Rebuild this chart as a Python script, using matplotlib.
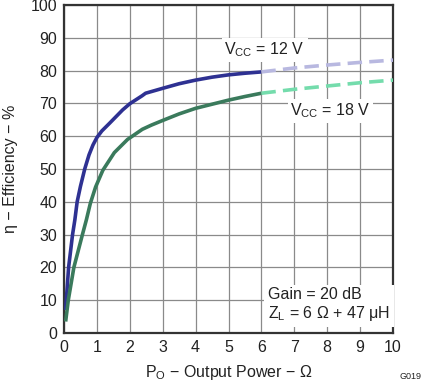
import matplotlib
matplotlib.use("Agg")
import matplotlib.pyplot as plt

plt.rcParams['font.family'] = ['Liberation Sans', 'DejaVu Sans']

# Vcc = 12 V measured (solid) and extrapolated (dashed)
p12 = [0.05, 0.07, 0.14, 0.26, 0.33, 0.40, 0.50, 0.63, 0.76, 0.88, 1.0, 1.15, 1.38, 1.78, 2.0, 2.37, 2.48, 3.0, 3.5, 4.0, 4.5, 5.0, 5.5, 6.0]
e12 = [7.0, 10, 20, 30, 34.5, 40, 44.7, 50, 54.3, 57.3, 59.6, 61.6, 63.9, 68.0, 69.9, 72.3, 73.1, 74.6, 76.0, 77.1, 78.0, 78.7, 79.2, 79.6]
p12d = [6.0, 7.0, 8.0, 9.0, 10.0]
e12d = [79.6, 80.8, 81.7, 82.5, 83.2]

# Vcc = 18 V
p18 = [0.05, 0.13, 0.30, 0.56, 0.68, 0.80, 0.96, 1.18, 1.53, 1.93, 2.38, 2.66, 3.0, 3.5, 4.0, 4.6, 5.0, 5.5, 6.0]
e18 = [3.5, 10, 20, 30, 34.5, 39.5, 44.5, 49.6, 55, 59, 62.1, 63.4, 64.8, 66.8, 68.5, 70.0, 71.0, 72.1, 73.1]
p18d = [6.0, 7.0, 8.0, 9.0, 10.0]
e18d = [73.1, 74.3, 75.3, 76.3, 77.1]

xticks = list(range(0, 11))
yticks = list(range(0, 101, 10))

fig = plt.figure(figsize=(4.21, 3.83), dpi=100)
ax = fig.add_axes([64/421, 1-333/383, (393-64)/421, (333-5)/383])

ax.plot(p12, e12, color='#2e3192', lw=2.6, solid_capstyle='butt', solid_joinstyle='round', zorder=3)
ax.plot(p12d, e12d, color='#b8b8e0', lw=2.6, ls=(0, (4, 2)), zorder=3)
ax.plot(p18, e18, color='#3a7a5c', lw=2.6, solid_capstyle='butt', solid_joinstyle='round', zorder=3)
ax.plot(p18d, e18d, color='#74dcac', lw=2.6, ls=(0, (4, 2)), zorder=3)

ax.set_xlim(0, 10)
ax.set_ylim(0, 100)
ax.set_xticks(xticks)
ax.set_yticks(yticks)
ax.grid(True, color='#8a8a8a', lw=0.9)
ax.tick_params(length=0, labelsize=11.5, colors='#222222', pad=5)
for s in ax.spines.values():
    s.set_color('#333333')
    s.set_linewidth(1.6)

ax.set_xlabel('P$_\\mathregular{O}$ − Output Power − Ω', fontsize=11.5, color='#222222', labelpad=6)
ax.set_ylabel('η − Efficiency − %', fontsize=11.5, color='#222222', labelpad=9)

bbox = dict(facecolor='white', edgecolor='none', pad=2)
ax.text(6.1, 86.3, 'V$_\\mathregular{CC}$ = 12 V', fontsize=11.5, ha='center', va='center', color='#222222', bbox=bbox, zorder=4)
ax.text(8.1, 67.8, 'V$_\\mathregular{CC}$ = 18 V', fontsize=11.5, ha='center', va='center', color='#222222', bbox=bbox, zorder=4)
ax.text(6.2, 3.2, 'Gain = 20 dB\nZ$_\\mathregular{L}$ = 6 Ω + 47 μH', fontsize=11.5, ha='left', va='bottom',
        color='#222222', linespacing=1.1, bbox=dict(facecolor='white', edgecolor='none', pad=3), zorder=4)

fig.text(1.0, 0.005, 'G019', fontsize=6.5, ha='right', va='bottom', color='#222222')

fig.savefig('out.png', dpi=100)
